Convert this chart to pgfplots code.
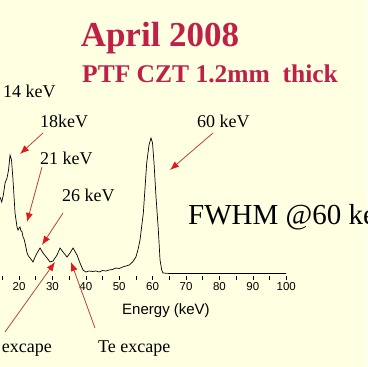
\documentclass[border=0pt]{standalone}
\usepackage{pgfplots}
\pgfplotsset{compat=1.18}
\usepackage{fontspec}
\setmainfont{Liberation Serif}
\newfontfamily\arial{Liberation Sans}
\usetikzlibrary{arrows.meta}
\definecolor{bg}{RGB}{255,255,226}
\definecolor{titlered}{RGB}{192,32,72}
\definecolor{arrowred}{RGB}{228,24,24}
\definecolor{shaftred}{RGB}{200,60,55}
\pgfplotstableread{
E count
14.31 77
14.82 72
15.30 79
15.81 91
16.41 96
16.86 104
17.31 119
17.75 114
18.20 94
18.80 61
19.40 47
19.70 44
20.00 46
20.30 47
20.60 43
20.90 42
21.20 37
21.50 35
21.80 31
22.40 21
22.80 18
23.29 16
24.19 12
24.80 17
25.39 21
26.29 26
27.19 21
28.38 16
29.28 12
30.18 13
31.38 19
32.28 26
33.17 22
34.37 17
35.27 21
36.17 26
37.37 19
38.26 11
39.16 4
40.00 2
41.00 3
42.00 2.5
43.00 3
44.00 2
45.00 3.5
46.00 3
47.00 4
48.00 4.5
49.00 6
50.00 5.5
51.00 7
52.00 8
53.00 9
54.00 12
55.00 17
55.60 24
56.23 34
57.22 61
58.23 111
58.92 129
59.52 136
59.97 131
60.42 111
61.02 77
61.71 44
62.22 14
62.72 4
63.10 1
65.00 0.5
70.00 0.5
80.00 0.5
90.00 0.5
100.00 0.5
}\spectrum
\begin{document}
\begin{tikzpicture}
\useasboundingbox (0,0) rectangle (367pt,367pt);
\clip (0,0) rectangle (367pt,367pt);
\fill[bg] (0,0) rectangle (367pt,367pt);
\begin{axis}[
  at={(0pt,91pt)}, anchor=south west,
  scale only axis, width=286.2pt, height=142pt,
  xmin=14.3, xmax=100, ymin=-2, ymax=140,
  axis line style={draw=none},
  ytick=\empty,
  xtick={20,30,...,100},
  minor xtick={15,25,...,95},
  xtick pos=bottom, tick align=outside,
  major tick length=4pt, minor tick length=4pt,
  tick style={black, line width=0.5pt},
  /pgf/number format/assume math mode=true,
  x tick label style={font=\arial\fontsize{11.5}{11.5}\selectfont, yshift=1pt},
  xlabel={Energy (keV)},
  xlabel style={font=\arial\fontsize{15}{15}\selectfont, at={(axis description cs:0.58,0)}, anchor=base, yshift=-39pt},
  clip=false,
]
\addplot[black, line width=0.7pt, no marks] table[x=E, y=count] {\spectrum};
\end{axis}
\node[font=\bfseries\fontsize{35}{35}\selectfont, text=titlered, anchor=base] at (160pt,320pt) {April 2008};
\node[font=\bfseries\fontsize{25.5}{25.5}\selectfont, text=titlered, anchor=base west, inner sep=0pt] at (82pt,284pt) {PTF CZT 1.2mm\ \ thick};
\begin{scope}[every node/.style={font=\fontsize{18}{18}\selectfont, anchor=base west, inner sep=0pt}]
\node at (3pt,269pt) {14 keV};
\node at (40pt,239pt) {18keV};
\node at (40pt,202pt) {21 keV};
\node at (62pt,165pt) {26 keV};
\node at (197pt,239pt) {60 keV};
\node at (98pt,15pt) {Te excape};
\node[anchor=base east] at (52pt,15pt) {Cd excape};
\end{scope}
\node[font=\fontsize{29}{29}\selectfont, anchor=base west, inner sep=0pt] at (188pt,142pt) {FWHM @60 keV};
\begin{scope}[shaftred, line width=0.8pt, -{Latex[length=9pt,width=7pt,fill=arrowred,color=arrowred]}]
\draw (43pt,234pt) -- (20pt,213pt);
\draw (42pt,200pt) -- (27pt,145pt);
\draw (63pt,154pt) -- (42pt,122pt);
\draw (213pt,234pt) -- (170pt,197pt);
\draw (5pt,35pt) -- (55pt,105pt);
\draw (95pt,39pt) -- (71pt,105pt);
\end{scope}
\end{tikzpicture}
\end{document}
